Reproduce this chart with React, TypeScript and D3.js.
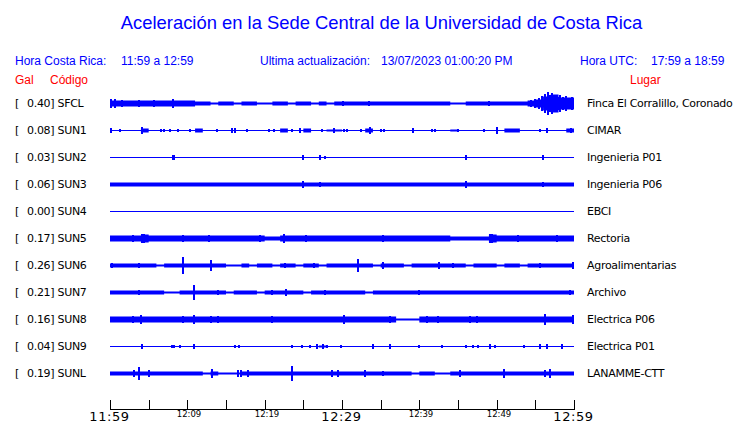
import React from "react";
import * as d3 from "d3";

const W = 740;
const H = 423;

const titleText = "Aceleración en la Sede Central de la Universidad de Costa Rica";
const headerCR = ["Hora Costa Rica:", "11:59 a 12:59"];
const headerUpdate = ["Ultima actualización:", "13/07/2023 01:00:20 PM"];
const headerUTC = ["Hora UTC:", "17:59 a 18:59"];

const codes = ["SFCL", "SUN1", "SUN2", "SUN3", "SUN4", "SUN5", "SUN6", "SUN7", "SUN8", "SUN9", "SUNL"];
const peakGal = ["0.40", "0.08", "0.03", "0.06", "0.00", "0.17", "0.26", "0.21", "0.16", "0.04", "0.19"];
const places = [
  "Finca El Corralillo, Coronado",
  "CIMAR",
  "Ingenieria P01",
  "Ingenieria P06",
  "EBCI",
  "Rectoria",
  "Agroalimentarias",
  "Archivo",
  "Electrica P06",
  "Electrica P01",
  "LANAMME-CTT",
];

// Envelope half-amplitude per minute (minute 0..59), arbitrary units
const envSFCL = [2.5, 2.5, 2, 2, 2, 2, 2, 2, 2, 2, 2,
  1.3, 1.3, 0.5, 1.5, 1.3, 0.5, 1.3, 1.3, 0.5, 0.5, 1.3, 1.3, 0.5, 1.3, 1.3, 0.5, 1.3, 0.5, 1.3,
  1.5, 1.5, 1.5, 1.5, 1.3, 1.5, 1.5, 1.5, 1.5, 1.5, 1.5, 1.5, 1.5, 1.5,
  0.8, 0.8, 1.3, 1.3, 1.3, 1, 1.3, 1.3, 1.3, 1.5, 2.5, 3.5, 6, 8, 5.5, 5];
const envSUN1 = [0, 0, 0, 0, 1.5, 0, 0, 0, 0, 0, 0, 1, 0, 0, 0, 0, 0, 0, 0, 0, 0, 0, 1, 0, 0, 1, 0, 0, 0.8, 0.8,
  0, 0, 0, 1, 0, 0, 0, 0, 0, 0, 0, 0, 0, 0, 0.8, 0, 0, 0, 0, 0, 0, 1, 1, 0, 0, 0, 0, 0, 0, 1];
const envSUN2 = [0, 0, 0, 0, 0, 0, 0, 0, 0, 0, 0, 0, 0, 0, 0, 0, 0, 0, 0, 0, 0, 0, 0, 0, 0, 0, 0, 0, 0, 0,
  0, 0, 0, 0, 0, 0, 0, 0, 0, 0, 0, 0, 0, 0, 0, 0, 0, 0, 0, 0, 0, 0, 0, 0, 0, 0, 0, 0, 0, 0];
const envSUN3 = [1.5, 1.5, 1.5, 1.5, 1.2, 1.5, 1.5, 1.2, 1.5, 1.5, 1.2, 1.5, 1.2, 1.5, 1.5, 1.5, 1.2, 1.5, 1.5, 1.2,
  1.5, 1.5, 1.5, 1.5, 1.5, 1.5, 1.5, 1.5, 1.5, 1.5, 1.5, 1.5, 1.5, 1.2, 1.5, 1.5, 1.5, 1.5, 1.5, 1.2,
  1.5, 1.5, 1.5, 1.5, 1.5, 1.5, 1.5, 1.5, 1.2, 1.5, 1.5, 1.5, 1.5, 1.5, 1.5, 1.5, 1.5, 1.5, 1.5, 1.5];
const envSUN4 = [0, 0, 0, 0, 0, 0, 0, 0, 0, 0, 0, 0, 0, 0, 0, 0, 0, 0, 0, 0, 0, 0, 0, 0, 0, 0, 0, 0, 0, 0,
  0, 0, 0, 0, 0, 0, 0, 0, 0, 0, 0, 0, 0, 0, 0, 0, 0, 0, 0, 0, 0, 0, 0, 0, 0, 0, 0, 0, 0, 0];
const envSUN5 = [2, 2, 2, 2.5, 3, 2, 2, 2, 2, 2.5, 2, 2, 2.5, 2, 2, 2, 2, 2, 2, 2,
  1.2, 1.2, 2.5, 2, 2, 2, 2, 2, 2, 2, 2, 2, 2, 2, 2, 2.5, 2, 2, 2, 2,
  2, 2, 2, 2, 1.5, 1.5, 1.5, 1.5, 1.5, 3, 2, 2, 2.5, 2, 2, 2, 2, 2.5, 2, 2];
const envSUN6 = [1.3, 1.3, 1.3, 1.3, 1.3, 1.3, 0.5, 1.3, 1.3, 1.3, 1.3, 1.3, 1.3, 1.3, 1.3, 0.5, 0.5, 1.3, 0.5, 1.3,
  1.3, 0.5, 1.3, 1.3, 0.5, 1.3, 1.3, 0.5, 1.3, 1.3, 1.3, 1.3, 1.3, 1.3, 0.5, 1.3, 1.3, 1.3, 0.5, 1.3,
  1.3, 1.3, 1.3, 1.3, 1.3, 1.3, 0.5, 1.3, 1.3, 1.3, 0.5, 1.3, 1.3, 0.5, 1.3, 1.3, 1.3, 1.3, 1.3, 1.3];
const envSUN7 = [1.3, 1.3, 1.3, 1.3, 1.3, 1.3, 1.3, 0.5, 0.5, 1.3, 1.3, 1.3, 1.3, 1.3, 1.3, 0.5, 1.3, 1.3, 1.3, 0.5,
  1.3, 1.3, 1.3, 1.3, 1.3, 0.5, 1.3, 1.3, 1.3, 1.3, 1.3, 1.3, 1.3, 0.5, 1.3, 1.3, 1.3, 1.3, 1.3, 1.3,
  1.3, 1.3, 1.3, 1.3, 1.3, 1.3, 1.3, 1.3, 1.3, 1.3, 1.3, 1.3, 1.3, 1.3, 1.3, 1.3, 1.3, 1.3, 1.3, 1.3];
const envSUN8 = [2, 2, 2, 2.5, 2.5, 2, 2, 2, 2, 2, 2.5, 2, 2.5, 2.5, 2.5, 2, 2, 2.5, 2, 2,
  2, 2.5, 2, 2, 2, 2, 2, 2, 2, 2, 2.5, 2, 2, 2, 2, 2, 2.5, 0.8, 0.8, 0.8,
  2.5, 2.5, 2.5, 2, 2, 2, 2.5, 2.5, 2, 2, 2, 2, 2, 2, 2, 2, 2.5, 2, 2, 2.5];
const envSUN9 = [0, 0, 0, 0, 0, 0, 0, 0, 0, 0, 0, 0, 0, 0, 0, 0, 0, 0, 0, 0, 0, 0, 0, 0, 0, 0, 0, 0.8, 0, 0,
  0, 0, 0, 0, 0, 0, 0, 0, 0, 0, 0, 0, 0, 0, 0, 0, 0, 0, 0, 0, 0, 0, 0, 0, 0, 0, 0, 0, 0, 0];
const envSUNL = [1.5, 1.5, 1.5, 1.5, 1.5, 1.5, 1.5, 1.5, 1.5, 1.5, 1.5, 1.5, 0.8, 1.5, 0.8, 0.8, 0.8, 1.5, 1.5, 1.5,
  1.5, 1.5, 1.5, 1.5, 1.5, 1.5, 1.5, 1.5, 1.5, 1.5, 1.5, 1.5, 1.5, 1.5, 1.5, 1.5, 1.5, 1.5, 1.5, 0.8,
  1.5, 1.5, 0.8, 0.8, 1.5, 1.5, 1.5, 1.5, 1.5, 1.5, 1.5, 1.5, 1.5, 1.5, 1.5, 1.5, 1.5, 1.5, 1.5, 1.5];

// Individual peaks: [minute, half-amplitude]
const spkSFCL = [[0.1, 4], [0.6, 3.5], [1.5, 3], [3.8, 3], [5.7, 2.5], [8.2, 4], [30.1, 2], [33.5, 2], [49.0, 2],
  [54.5, 3], [55.0, 4], [55.5, 5], [55.9, 7], [56.3, 9], [56.6, 11], [56.9, 8], [57.2, 10], [57.5, 7],
  [57.9, 6], [58.2, 8], [58.6, 6], [59.0, 7], [59.4, 5], [59.8, 6]];
const spkSUN1 = [[0.1, 2], [1.3, 1], [4.2, 2.5], [6.6, 1], [7.0, 1], [7.8, 1], [8.8, 1], [10.3, 1], [13.9, 1],
  [15.8, 2], [16.2, 2], [17.7, 1], [20.6, 1], [21.2, 1], [23.5, 1], [24.6, 2], [27.4, 1], [29.0, 2], [30.2, 1],
  [30.7, 1], [32.5, 1], [33.6, 2.5], [35.0, 1], [35.4, 1], [39.2, 1.5], [41.6, 1], [42.0, 1], [45.0, 1],
  [48.3, 1], [50.0, 2.5], [55.6, 1], [56.5, 1.5], [59.6, 1.5]];
const spkSUN2 = [[8.1, 1.5], [8.3, 1.5], [24.9, 1.5], [27.2, 1.5], [27.8, 1], [46.0, 1.5], [56.0, 1.5]];
const spkSUN3 = [[24.9, 2.5], [27.1, 2], [46.0, 2.5], [56.0, 2]];
const spkSUN4: number[][] = [];
const spkSUN5 = [[3.0, 3], [4.2, 4], [4.4, 3.5], [9.5, 3], [12.8, 3], [19.4, 3], [22.5, 3.5], [25.4, 2.5],
  [35.3, 3], [49.1, 4], [49.4, 3.5], [52.8, 2.5], [57.8, 3]];
const spkSUN6 = [[0.3, 2], [3.8, 2], [9.5, 8], [13.0, 5], [22.6, 2], [26.4, 2], [32.1, 6], [35.3, 2.5],
  [42.6, 3], [44.4, 2], [55.6, 2], [59.9, 3]];
const spkSUN7 = [[3.7, 2], [10.9, 6.5], [14, 2], [20.9, 2], [22.8, 2.5], [27.8, 1.5], [40, 2], [59.5, 2]];
const spkSUN8 = [[3.0, 3], [4.0, 3.5], [9.5, 3], [10.8, 3.5], [13.0, 3], [14.0, 3], [20.9, 3], [30.2, 4],
  [36.2, 3], [41.0, 3], [42.4, 3], [46.5, 3], [47.5, 3], [56.3, 4.5], [59.9, 3.5]];
const spkSUN9 = [[4.1, 1.5], [8.0, 1], [8.3, 1], [9.0, 1], [10.9, 1.5], [16.1, 1], [16.7, 1], [23.5, 1],
  [24.8, 1], [25.9, 1], [26.8, 1.5], [27.5, 1.5], [28.0, 1], [29.9, 1], [34.0, 1.5], [36.2, 1.5], [39.9, 1],
  [42.9, 1], [46.0, 1], [47.0, 1], [47.6, 1], [49.1, 1.5], [49.8, 1], [53.5, 1], [55.6, 1.5], [56.5, 1.5], [58.4, 1.5]];
const spkSUNL = [[3.1, 3], [3.8, 6], [5.0, 3], [13.2, 3.5], [16.5, 3], [17.0, 2.5], [17.9, 2.5], [23.5, 6.5],
  [28.7, 3], [29.5, 3], [33.0, 2.5], [35.3, 2], [45.3, 3], [51.0, 3.5], [56.2, 3], [56.9, 4]];

const envs = [envSFCL, envSUN1, envSUN2, envSUN3, envSUN4, envSUN5, envSUN6, envSUN7, envSUN8, envSUN9, envSUNL];
const spikes = [spkSFCL, spkSUN1, spkSUN2, spkSUN3, spkSUN4, spkSUN5, spkSUN6, spkSUN7, spkSUN8, spkSUN9, spkSUNL];

const startTime = new Date(2023, 6, 13, 11, 59);
const endTime = new Date(2023, 6, 13, 12, 59);
const tickMinutes = [0, 5, 10, 15, 20, 25, 30, 35, 40, 45, 50, 55, 60];
const labelMinutes = [0, 10, 20, 30, 40, 50, 60];
const majorTickMinutes = [0, 30, 60];

const BLUE = "#0000ff";
const RED = "#ff0000";
const SANS = "'Liberation Sans', Arial, sans-serif";
const DEJA = "'DejaVu Sans', sans-serif";

export default function App() {
  const x = d3.scaleTime().domain([startTime, endTime]).range([110, 574]);
  const row = d3.scalePoint<string>().domain(codes).range([103, 373]);
  const amp = d3.scaleLinear().domain([0, 1]).range([0, 1]);
  const tAt = (m: number) => new Date(startTime.getTime() + m * 60000);
  const fmt = d3.timeFormat("%H:%M");
  const axisY = 409;

  return (
    <svg width={W} height={H} style={{ position: "absolute", left: 0, top: 0, background: "#fff" }}>
      <rect width={W} height={H} fill="#fff" />
      <text x={381.5} y={29} textAnchor="middle" fill={BLUE} fontFamily={SANS} fontSize={18.4}>{titleText}</text>

      <g fontFamily={SANS} fontSize={12} fill={BLUE}>
        <text x={15} y={65}>{headerCR[0]}</text>
        <text x={121} y={65}>{headerCR[1]}</text>
        <text x={260} y={65}>{headerUpdate[0]}</text>
        <text x={381} y={65}>{headerUpdate[1]}</text>
        <text x={580} y={65}>{headerUTC[0]}</text>
        <text x={651} y={65}>{headerUTC[1]}</text>
      </g>
      <g fontFamily={SANS} fontSize={12} fill={RED}>
        <text x={15} y={84}>Gal</text>
        <text x={50} y={84}>Código</text>
        <text x={630} y={84}>Lugar</text>
      </g>

      {codes.map((c, i) => {
        const cy = row(c) as number;
        const env = envs[i];
        const pts = env.map((v, m) => [m, v]).concat([[60, env[env.length - 1]]]);
        const area = d3.area<number[]>()
          .x((d) => x(tAt(d[0])))
          .y0((d) => (d[1] > 0 ? cy + 0.5 + Math.round(amp(d[1]) + 0.5) : cy))
          .y1((d) => (d[1] > 0 ? cy + 0.5 - Math.round(amp(d[1]) + 0.5) : cy))
          .curve(d3.curveStepAfter);
        return (
          <g key={c}>
            <g fontFamily={DEJA} fontSize={11} fill="#000" letterSpacing={-0.3}>
              <text x={15} y={cy + 4}>[</text>
              <text x={27} y={cy + 4}>{`${peakGal[i]}] ${c}`}</text>
              <text x={587} y={cy + 4}>{places[i]}</text>
            </g>
            <line x1={x(startTime)} x2={x(endTime)} y1={cy + 0.5} y2={cy + 0.5} stroke={BLUE} strokeWidth={1} />
            <path d={area(pts) || ""} fill={BLUE} />
            {spikes[i].map((s, k) => {
              const sx = Math.round(x(tAt(s[0])));
              const a = Math.round(amp(s[1]));
              return (
                <line key={k} x1={sx} x2={sx} y1={cy - a} y2={cy + 1 + a} stroke={BLUE} strokeWidth={2} />
              );
            })}
          </g>
        );
      })}

      <g>
        <line x1={x(startTime)} x2={x(endTime) + 1} y1={axisY + 0.5} y2={axisY + 0.5} stroke="#000" strokeWidth={1} />
        {tickMinutes.map((m) => {
          const t = tAt(m);
          const px = Math.round(x(t)) + 0.5;
          const major = majorTickMinutes.includes(m);
          const labeled = labelMinutes.includes(m);
          return (
            <g key={m}>
              <line x1={px} x2={px} y1={axisY - 9} y2={axisY} stroke="#000" strokeWidth={1} />
              {labeled && (major ? (
                <text x={px - 1} y={421} textAnchor="middle" fontFamily={DEJA} fontSize={13} letterSpacing={0.6} fill="#000">{fmt(t)}</text>
              ) : (
                <text x={px + 1.5} y={417} textAnchor="middle" fontFamily={DEJA} fontSize={8.5} fill="#000">{fmt(t)}</text>
              ))}
            </g>
          );
        })}
      </g>
    </svg>
  );
}
